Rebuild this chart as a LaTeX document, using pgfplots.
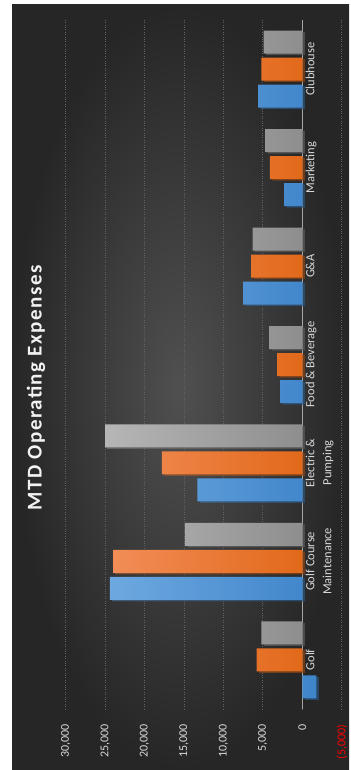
\documentclass[border=0pt]{standalone}
\usepackage{pgfplots}
\pgfplotsset{compat=1.18}
\usepackage{fontspec}
\setmainfont{Carlito}
\newfontfamily\titlefont[LetterSpace=7]{Carlito}
\usetikzlibrary{shadows}
\definecolor{bgIn}{HTML}{505050}
\definecolor{bgOut}{HTML}{262626}
\definecolor{titleC}{HTML}{F2F2F2}
\definecolor{labelC}{HTML}{D9D9D9}
\definecolor{gridC}{HTML}{626262}
\definecolor{zeroC}{HTML}{A6A6A6}
\definecolor{blueL}{HTML}{6EA8E0}
\definecolor{blueD}{HTML}{3F85CA}
\definecolor{orangeL}{HTML}{F28D57}
\definecolor{orangeD}{HTML}{E2691A}
\definecolor{grayL}{HTML}{B6B6B6}
\definecolor{grayD}{HTML}{8E8E8E}
\begin{document}
\begin{tikzpicture}[x=1pt,y=1pt]
\path[fill=white] (0pt,0pt) rectangle (349pt,-770pt);
\shade[inner color=bgIn, outer color=bgOut] (12pt,-5pt) rectangle (349pt,-770pt);
\node[rotate=90, font=\titlefont\bfseries\fontsize{21}{24}\selectfont, text=titleC] at (36pt,-388pt) {MTD Operating Expenses};
\begin{axis}[
  at={(203.7pt,-364.5pt)}, anchor=center,
  scale only axis, width=276pt, height=689pt,
  x dir=reverse, xmin=-5000, xmax=30000, ymin=-0.5, ymax=6.5,
  enlargelimits=false, scaled x ticks=false,
  axis y line=middle, axis x line=bottom,
  x axis line style={draw=none},
  y axis line style={draw=zeroC, line width=1.3pt, -},
  xtick={-5000,0,5000,10000,15000,20000,25000,30000},
  xticklabels={{\color{red}(5,000)},0,{5,000},{10,000},{15,000},{20,000},{25,000},{30,000}},
  xticklabel style={rotate=90, anchor=east, font=\fontsize{12}{14}\selectfont, text=labelC},
  xticklabel shift=12pt,
  xmajorgrids, grid style={dotted, gridC, line width=0.8pt},
  ytick={0,1,2,3,4,5,6},
  yticklabels={Golf,{Golf Course\\Maintenance},{Electric \&\\Pumping},{Food \& Beverage},G\&A,Marketing,Clubhouse},
  yticklabel style={rotate=90, anchor=north, align=center, font=\fontsize{12.5}{17}\selectfont, text=labelC},
  major tick length=0pt,
  xbar, bar width=23pt,
]
\addplot[xbar, bar shift=-27pt, draw=none, left color=blueL, right color=blueD,
  drop shadow={fill=black, opacity=0.45, shadow xshift=2.5pt, shadow yshift=-1.5pt}]
  coordinates {(-1800,0) (24400,1) (13300,2) (2800,3) (7500,4) (2300,5) (5600,6)};
\addplot[xbar, bar shift=0pt, draw=none, left color=orangeL, right color=orangeD,
  drop shadow={fill=black, opacity=0.45, shadow xshift=2.5pt, shadow yshift=-1.5pt}]
  coordinates {(5800,0) (24000,1) (17800,2) (3200,3) (6500,4) (4100,5) (5200,6)};
\addplot[xbar, bar shift=27pt, draw=none, left color=grayL, right color=grayD,
  drop shadow={fill=black, opacity=0.45, shadow xshift=2.5pt, shadow yshift=-1.5pt}]
  coordinates {(5200,0) (14900,1) (25000,2) (4200,3) (6300,4) (4700,5) (4900,6)};
\end{axis}
\end{tikzpicture}
\end{document}
